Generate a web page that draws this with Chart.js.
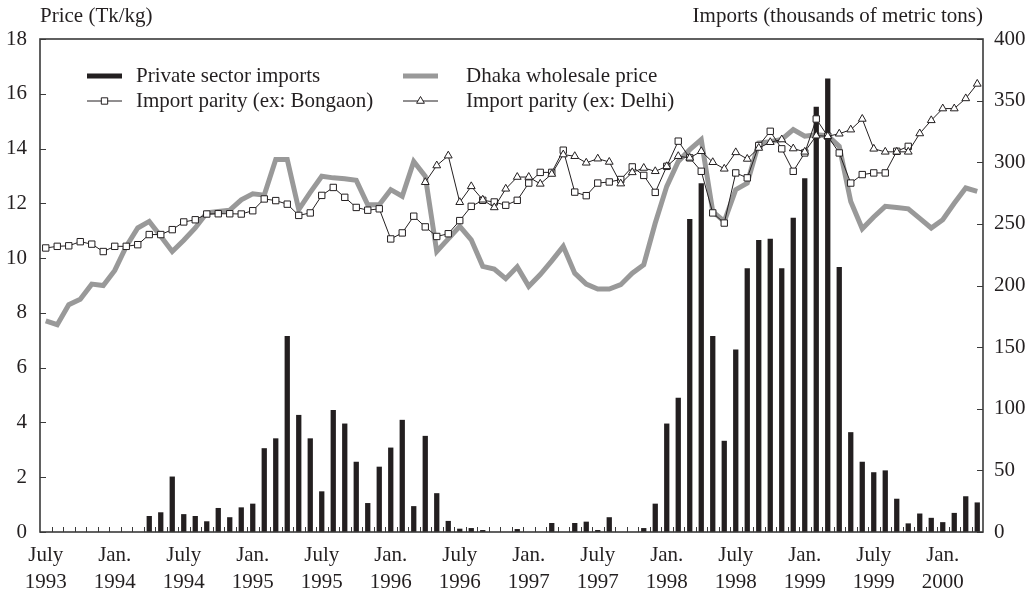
<!DOCTYPE html>
<html>
<head>
<meta charset="utf-8">
<script src="https://cdn.jsdelivr.net/npm/chart.js@4.4.1/dist/chart.umd.min.js"></script>
<style>
html, body { margin: 0; padding: 0; background: #fff; }
</style>
</head>
<body>
<canvas id="riceChart" width="1032" height="594"></canvas>
<script>
const FONT = "'Liberation Serif', 'Times New Roman', serif";
const INK = "#231f20";

// monthly categories, July 1993 .. April 2000
const monthNames = ["Jan.", "Feb.", "Mar.", "Apr.", "May", "June", "July", "Aug.", "Sep.", "Oct.", "Nov.", "Dec."];
const months = [];
for (let k = 0; k < 82; k++) {
    const m = (6 + k) % 12;
    const y = 1993 + Math.floor((6 + k) / 12);
    months.push(`${monthNames[m]} ${y}`);
}

// thousands of metric tons (right axis)
const privateImports = [
    0, 0, 0, 0, 0, 0, 0, 0, 0, 13,
    16, 45, 14.5, 13, 8.7, 19.5, 12, 20, 23, 68,
    76, 159, 95, 76, 33, 99, 88, 57, 23.5, 53,
    68.5, 91, 21, 78, 31.5, 9, 2.7, 3.2, 1.6, 0,
    0, 2.4, 0, 0, 7.3, 0, 7.3, 8.4, 1.6, 12,
    0, 0, 3.2, 23, 88, 109, 254, 283, 159, 74,
    148, 214, 237, 238, 214, 255, 287, 345, 368, 215,
    81, 57, 48.5, 50, 27, 7, 15, 11.5, 8, 15.5,
    29, 24
];

// Tk/kg (left axis)
const dhakaPrice = [
    7.71, 7.57, 8.3, 8.5, 9.05, 9.0, 9.55, 10.43, 11.1, 11.34,
    10.8, 10.24, 10.65, 11.1, 11.65, 11.7, 11.75, 12.13, 12.35, 12.3,
    13.6, 13.6, 11.77, 12.4, 12.99, 12.93, 12.9, 12.84, 11.95, 11.95,
    12.5, 12.26, 13.53, 12.99, 10.24, 10.7, 11.16, 10.67, 9.7, 9.6,
    9.25, 9.68, 8.97, 9.4, 9.9, 10.43, 9.45, 9.05, 8.87, 8.87,
    9.03, 9.45, 9.76, 11.28, 12.62, 13.53, 13.96, 14.33, 11.7, 11.34,
    12.5, 12.74, 14.2, 14.25, 14.33, 14.69, 14.45, 14.5, 14.47, 14.08,
    12.07, 11.07, 11.5, 11.89, 11.85, 11.8, 11.45, 11.1, 11.4, 12.0,
    12.56, 12.44
];

const parityBongaon = [
    10.37, 10.43, 10.45, 10.6, 10.51, 10.24, 10.43, 10.43, 10.49, 10.86,
    10.86, 11.04, 11.32, 11.4, 11.61, 11.62, 11.62, 11.61, 11.73, 12.16,
    12.1, 11.97, 11.56, 11.65, 12.29, 12.58, 12.22, 11.85, 11.75, 11.8,
    10.7, 10.92, 11.53, 11.14, 10.79, 10.89, 11.37, 11.89, 12.11, 12.05,
    11.93, 12.11, 12.74, 13.13, 13.13, 13.94, 12.41, 12.28, 12.74, 12.78,
    12.87, 13.33, 13.02, 12.4, 13.35, 14.27, 13.66, 13.17, 11.65, 11.28,
    13.11, 12.93, 14.11, 14.63, 13.99, 13.17, 13.84, 15.08, 14.45, 13.84,
    12.74, 13.05, 13.11, 13.11, 13.9, 14.08, null, null, null, null,
    null, null
];

const parityDelhi = [
    null, null, null, null, null, null, null, null, null, null,
    null, null, null, null, null, null, null, null, null, null,
    null, null, null, null, null, null, null, null, null, null,
    null, null, null, 12.77, 13.38, 13.74, 12.04, 12.62, 12.13, 11.85,
    12.53, 12.96, 12.96, 12.71, 13.07, 13.78, 13.72, 13.48, 13.63, 13.51,
    12.72, 13.13, 13.29, 13.17, 13.35, 13.72, 13.66, 13.9, 13.5, 13.26,
    13.86, 13.62, 14.02, 14.23, 14.33, 14.0, 13.88, 14.47, 14.45, 14.54,
    14.69, 15.08, 13.99, 13.88, 13.88, 13.88, 14.55, 15.03, 15.46, 15.46,
    15.83, 16.36
];

// x tick labels, one every six months
const tickLabels = [
    ["July", "1993"], ["Jan.", "1994"], ["July", "1994"], ["Jan.", "1995"],
    ["July", "1995"], ["Jan.", "1996"], ["July", "1996"], ["Jan.", "1997"],
    ["July", "1997"], ["Jan.", "1998"], ["July", "1998"], ["Jan.", "1999"],
    ["July", "1999"], ["Jan.", "2000"]
];

const priceTitle = "Price (Tk/kg)";
const importsTitle = "Imports (thousands of metric tons)";

// frame round the plot plus short ticks pointing inwards
const frameAndTicks = {
    id: "frameAndTicks",
    afterDraw(chart) {
        const { ctx, chartArea: a, scales } = chart;
        ctx.save();
        ctx.strokeStyle = "#3a3a3a";
        ctx.lineWidth = 1;
        ctx.beginPath();
        const x = scales.x;
        for (let i = 1; i < months.length; i++) {
            const px = Math.round((x.getPixelForValue(i - 1) + x.getPixelForValue(i)) / 2) + 0.5;
            ctx.moveTo(px, a.bottom);
            ctx.lineTo(px, a.bottom - 5);
        }
        scales.y.ticks.forEach((t) => {
            const py = Math.round(scales.y.getPixelForValue(t.value)) + 0.5;
            ctx.moveTo(a.left, py);
            ctx.lineTo(a.left + 6, py);
        });
        scales.y2.ticks.forEach((t) => {
            const py = Math.round(scales.y2.getPixelForValue(t.value)) + 0.5;
            ctx.moveTo(a.right, py);
            ctx.lineTo(a.right - 6, py);
        });
        ctx.stroke();
        ctx.lineWidth = 1.6;
        ctx.strokeRect(a.left, a.top, a.right - a.left, a.bottom - a.top);

        ctx.fillStyle = INK;
        ctx.font = `21px ${FONT}`;
        ctx.textBaseline = "alphabetic";
        ctx.textAlign = "left";
        ctx.fillText(priceTitle, a.left, 22);
        ctx.textAlign = "right";
        ctx.fillText(importsTitle, a.right, 22);
        ctx.restore();
    }
};

// two-column legend inside the plot
const boxLegend = {
    id: "boxLegend",
    afterDraw(chart) {
        const { ctx } = chart;
        const slots = [
            { ds: 0, x: 87, y: 76 },
            { ds: 1, x: 403, y: 76 },
            { ds: 2, x: 87, y: 101 },
            { ds: 3, x: 403, y: 101 }
        ];
        const textX = [136, 466];
        ctx.save();
        slots.forEach((s, n) => {
            const ds = chart.data.datasets[s.ds];
            const w = 35;
            ctx.beginPath();
            if (ds.type === "bar") {
                ctx.strokeStyle = ds.backgroundColor;
                ctx.lineWidth = 5;
            } else {
                ctx.strokeStyle = ds.borderColor;
                ctx.lineWidth = ds.borderWidth;
            }
            ctx.moveTo(s.x, s.y);
            ctx.lineTo(s.x + w, s.y);
            ctx.stroke();
            if (ds.pointRadius) {
                ctx.fillStyle = ds.pointBackgroundColor;
                ctx.strokeStyle = ds.pointBorderColor;
                ctx.lineWidth = 1;
                Chart.helpers.drawPoint(ctx, {
                    pointStyle: ds.pointStyle,
                    radius: ds.pointRadius,
                    rotation: 0,
                    borderWidth: 1
                }, s.x + w / 2, s.y);
            }
            ctx.fillStyle = INK;
            ctx.font = `21px ${FONT}`;
            ctx.textAlign = "left";
            ctx.textBaseline = "middle";
            ctx.fillText(ds.label, textX[n % 2], s.y);
        });
        ctx.restore();
    }
};

const ctx = document.getElementById("riceChart");

new Chart(ctx, {
    type: "bar",
    data: {
        labels: months,
        datasets: [
            {
                type: "bar",
                label: "Private sector imports",
                data: privateImports,
                yAxisID: "y2",
                backgroundColor: INK,
                barPercentage: 0.46,
                categoryPercentage: 1,
                order: 2
            },
            {
                type: "line",
                label: "Dhaka wholesale price",
                data: dhakaPrice,
                yAxisID: "y",
                borderColor: "#999999",
                borderWidth: 5,
                pointRadius: 0,
                tension: 0,
                order: 3
            },
            {
                type: "line",
                label: "Import parity (ex: Bongaon)",
                data: parityBongaon,
                yAxisID: "y",
                borderColor: INK,
                borderWidth: 1,
                pointStyle: "rect",
                pointRadius: 4.5,
                pointBackgroundColor: "#ffffff",
                pointBorderColor: INK,
                pointBorderWidth: 1,
                tension: 0,
                order: 1
            },
            {
                type: "line",
                label: "Import parity (ex: Delhi)",
                data: parityDelhi,
                yAxisID: "y",
                borderColor: INK,
                borderWidth: 1,
                pointStyle: "triangle",
                pointRadius: 4.5,
                pointBackgroundColor: "#ffffff",
                pointBorderColor: INK,
                pointBorderWidth: 1,
                tension: 0,
                order: 0
            }
        ]
    },
    options: {
        responsive: false,
        animation: false,
        layout: { padding: { top: 39, left: 0, right: 0, bottom: 0 } },
        plugins: {
            legend: { display: false },
            tooltip: { enabled: false },
            title: { display: false }
        },
        scales: {
            x: {
                type: "category",
                offset: true,
                grid: { display: false },
                border: { display: false },
                ticks: {
                    autoSkip: false,
                    maxRotation: 0,
                    minRotation: 0,
                    padding: 2,
                    color: INK,
                    font: { family: FONT, size: 21, lineHeight: 1.3 },
                    callback: (value, index) => index % 6 === 0 ? tickLabels[index / 6] : null
                },
                afterFit: (scale) => { scale.height = 62; }
            },
            y: {
                position: "left",
                min: 0,
                max: 18,
                grid: { display: false, drawTicks: false },
                border: { display: false },
                ticks: {
                    stepSize: 2,
                    padding: 13,
                    color: INK,
                    font: { family: FONT, size: 21 }
                },
                afterFit: (scale) => { scale.width = 40; }
            },
            y2: {
                position: "right",
                min: 0,
                max: 400,
                grid: { display: false, drawTicks: false },
                border: { display: false },
                ticks: {
                    stepSize: 50,
                    padding: 11,
                    color: INK,
                    font: { family: FONT, size: 21 }
                },
                afterFit: (scale) => { scale.width = 49; }
            }
        }
    },
    plugins: [frameAndTicks, boxLegend]
});
</script>
</body>
</html>
